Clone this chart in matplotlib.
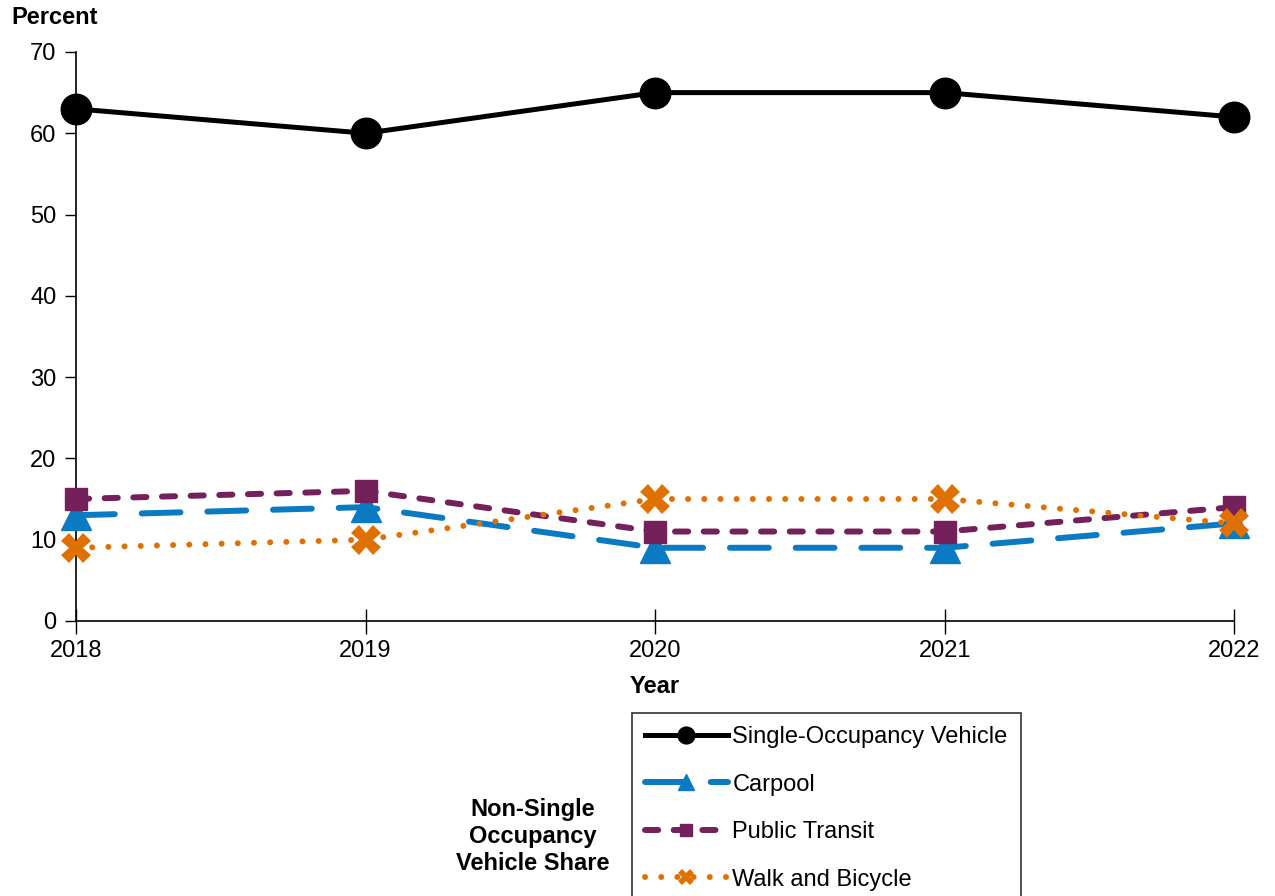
import matplotlib.pyplot as plt

plt.rcParams['font.family'] = ['Liberation Sans', 'DejaVu Sans']

years = [2018, 2019, 2020, 2021, 2022]
single_occupancy = [63, 60, 65, 65, 62]
carpool = [13, 14, 9, 9, 12]
public_transit = [15, 16, 11, 11, 14]
walk_bicycle = [9, 10, 15, 15, 12]

fs = 17

fig = plt.figure(figsize=(12.75, 8.96), dpi=100)
ax = fig.add_axes([0.0596, 0.307, 0.9084, 0.635])

ax.plot(years, single_occupancy, color='black', lw=3.6, marker='o', ms=22,
        label='Single-Occupancy Vehicle', clip_on=False, zorder=5)
ax.plot(years, carpool, color='#0a7bc2', lw=4.3, marker='^', ms=21,
        dashes=(6.5, 4.5), dash_capstyle='round', label='Carpool', clip_on=False, zorder=3)
ax.plot(years, public_transit, color='#74205b', lw=4.3, marker='s', ms=16,
        dashes=(2.2, 2.6), dash_capstyle='round', label='Public Transit', clip_on=False, zorder=4)
ax.plot(years, walk_bicycle, color='#e07000', lw=4.3, marker='X', ms=21, mew=0,
        dashes=(0.01, 2.7), dash_capstyle='round', label='Walk and Bicycle',
        clip_on=False, zorder=4)

ax.set_xlim(2018, 2022)
ax.set_ylim(0, 70)
ax.set_xticks(years)
ax.set_yticks(range(0, 71, 10))
ax.tick_params(axis='y', direction='out', length=8, width=1, labelsize=fs, pad=6)
ax.tick_params(axis='x', direction='inout', length=18, width=1, labelsize=fs, pad=5)
for s in ['top', 'right']:
    ax.spines[s].set_visible(False)
for s in ['left', 'bottom']:
    ax.spines[s].set_linewidth(1.2)

ax.set_xlabel('Year', fontsize=fs, fontweight='bold', labelpad=9)
fig.text(0.009, 0.98, 'Percent', fontsize=fs, fontweight='bold', ha='left', va='center')

leg = fig.legend(loc='upper left', bbox_to_anchor=(0.4957, 0.2042), fontsize=fs,
                 frameon=True, fancybox=False, edgecolor='black', handlelength=3.5,
                 labelspacing=1.08, borderpad=0.55, handletextpad=0.2,
                 borderaxespad=0, markerscale=0.55)
leg.get_frame().set_linewidth(1.2)

fig.text(0.418, 0.066, 'Non-Single\nOccupancy\nVehicle Share', fontsize=fs,
         fontweight='bold', ha='center', va='center', linespacing=1.22)

fig.savefig('out.png', dpi=100)
